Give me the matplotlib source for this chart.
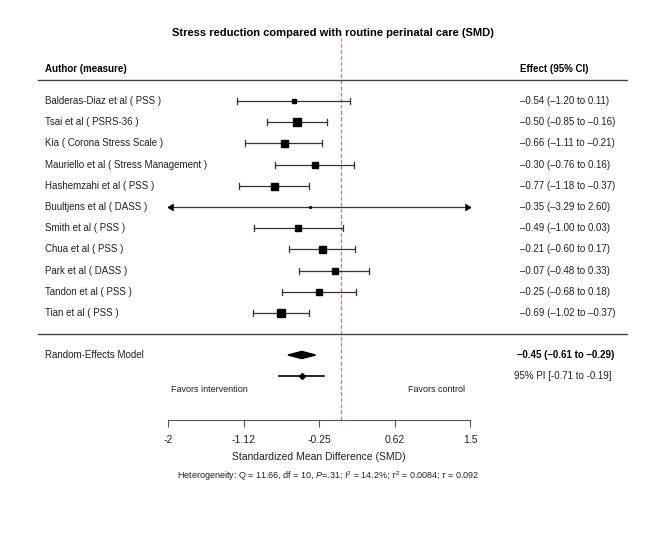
import numpy as np
import matplotlib
matplotlib.use("Agg")
import matplotlib.pyplot as plt
from matplotlib.transforms import blended_transform_factory

plt.rcParams['font.family'] = ['Liberation Sans', 'DejaVu Sans']
plt.rcParams['mathtext.fontset'] = 'custom'
plt.rcParams['mathtext.rm'] = 'Liberation Sans'
plt.rcParams['mathtext.it'] = 'Liberation Sans:italic'

# studies
labels = ["Balderas-Diaz et al ( PSS )", "Tsai et al ( PSRS-36 )", "Kia ( Corona Stress Scale )",
          "Mauriello et al ( Stress Management )", "Hashemzahi et al ( PSS )", "Buultjens et al ( DASS )",
          "Smith et al ( PSS )", "Chua et al ( PSS )", "Park et al ( DASS )",
          "Tandon et al ( PSS )", "Tian et al ( PSS )"]
est = [-0.54, -0.50, -0.66, -0.30, -0.77, -0.35, -0.49, -0.21, -0.07, -0.25, -0.69]
lo = [-1.20, -0.85, -1.11, -0.76, -1.18, -3.29, -1.00, -0.60, -0.48, -0.68, -1.02]
hi = [0.11, -0.16, -0.21, 0.16, -0.37, 2.60, 0.03, 0.17, 0.33, 0.18, -0.37]
weights = [5, 8, 7, 6.5, 7, 1.5, 6, 7, 6, 6.5, 8]   # square side, px (approx)

# pooled
re_est, re_lo, re_hi = -0.45, -0.61, -0.29
pi_lo, pi_hi = -0.71, -0.19

ticks = [-2, -1.125, -0.25, 0.625, 1.5]
tick_labels = ["-2", "-1.12", "-0.25", "0.62", "1.5"]
xmin, xmax = -2, 1.5

W, H = 669, 534
fig = plt.figure(figsize=(W / 100, H / 100), dpi=100)
ax = fig.add_axes([168 / W, (H - 420) / H, 302 / W, (420 - 38) / H])
row_px = 21.2
ax.set_xlim(xmin, xmax)
ax.set_ylim((420 - 101) / row_px, (38 - 101) / row_px)
for s in ["top", "left", "right"]:
    ax.spines[s].set_visible(False)
ax.spines["bottom"].set_color("#555555")
ax.set_yticks([])
ax.set_xticks(ticks)
ax.set_xticklabels(tick_labels, fontsize=7.5, color="#222222")
ax.tick_params(axis="x", direction="out", length=5, width=0.8, color="#555555", pad=6)
ax.set_xlabel("Standardized Mean Difference (SMD)", fontsize=7.5, color="#222222", labelpad=5)

bt = blended_transform_factory(fig.transFigure, ax.transData)
fx = lambda px: px / W

# line of no effect
ax.axvline(0, color="#ff6060", ls=(0, (3.5, 2)), lw=0.8)

fs = 7
for i, (lab, e, l, h, w) in enumerate(zip(labels, est, lo, hi, weights)):
    lc, hc = max(l, xmin), min(h, xmax)
    ax.plot([lc, hc], [i, i], color="#333333", lw=0.9)
    if l < xmin:
        ax.plot(lc + 0.04, i, marker=(3, 0, 90), ms=6.5, color="black", mew=0)
    else:
        ax.plot([l, l], [i - 0.14, i + 0.14], color="#333333", lw=0.9)
    if h > xmax:
        ax.plot(hc - 0.04, i, marker=(3, 0, -90), ms=6.5, color="black", mew=0)
    else:
        ax.plot([h, h], [i - 0.14, i + 0.14], color="#333333", lw=0.9)
    ax.plot(e, i, marker="s", ms=w * 0.72, color="black", mec="black")
    ax.text(fx(45), i, lab, transform=bt, fontsize=fs, va="center", ha="left", color="#222222")
    ax.text(fx(520), i, f"\u2013{abs(e):.2f} (\u2013{abs(l):.2f} to {'\u2013' if h < 0 else ''}{abs(h):.2f})",
            transform=bt, fontsize=fs, va="center", ha="left", color="#222222")

# header
y_head = (69 - 101) / row_px
ax.text(fx(45), y_head, "Author (measure)", transform=bt, fontsize=fs, fontweight="bold", va="center")
ax.text(fx(520), y_head, "Effect (95% CI)", transform=bt, fontsize=fs, fontweight="bold", va="center")
for ypx in [80, 334]:
    ax.plot([fx(38), fx(627)], [(ypx - 101) / row_px] * 2, transform=bt, color="#444444", lw=1.0, clip_on=False)

# pooled
y_re = (355 - 101) / row_px
ax.fill([re_lo, re_est, re_hi, re_est], [y_re, y_re - 0.17, y_re, y_re + 0.17], color="black")
ax.text(fx(45), y_re, "Random-Effects Model", transform=bt, fontsize=fs, va="center", color="#222222")
ax.text(fx(614), y_re, f"\u2013{abs(re_est):.2f} (\u2013{abs(re_lo):.2f} to \u2013{abs(re_hi):.2f})",
        transform=bt, fontsize=fs, fontweight="bold", va="center", ha="right")
y_pi = (376 - 101) / row_px
ax.plot([pi_lo, pi_hi], [y_pi, y_pi], color="black", lw=1.2)
ax.plot(re_est, y_pi, marker="D", ms=3, color="black")
ax.text(fx(611), y_pi, f"95% PI [{pi_lo:.2f} to {pi_hi:.2f}]", transform=bt, fontsize=fs,
        va="center", ha="right", color="#222222")

y_fav = (390 - 101) / row_px
ax.text(fx(209), y_fav, "Favors intervention", transform=bt, fontsize=6.5, va="center", ha="center", color="#222222")
ax.text(fx(437), y_fav, "Favors control", transform=bt, fontsize=6.5, va="center", ha="center", color="#222222")

fig.text(fx(328), 1 - 476 / H, r"Heterogeneity: Q = 11.66, df = 10, $P$=.31; I$^2$ = 14.2%; $\tau^2$ = 0.0084; $\tau$ = 0.092",
         fontsize=6.5, ha="center", va="center", color="#222222")
fig.text(fx(333), 1 - 33 / H, "Stress reduction compared with routine perinatal care (SMD)",
         fontsize=8, fontweight="bold", ha="center", va="center")

fig.savefig("out.png", dpi=100)
